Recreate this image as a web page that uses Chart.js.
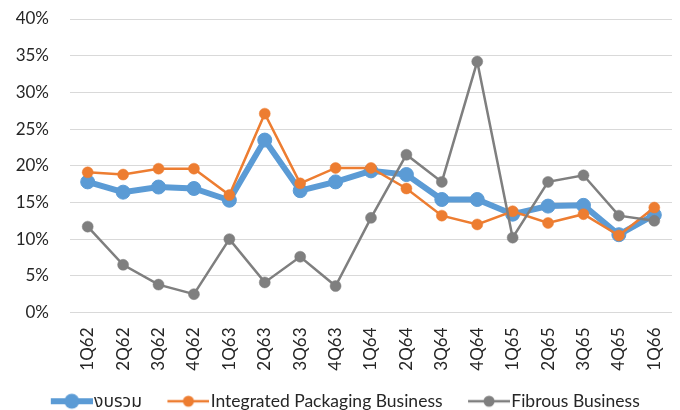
<!DOCTYPE html>
<html>
<head>
<meta charset="utf-8">
<script src="https://cdn.jsdelivr.net/npm/chart.js@4"></script>
<style>
  html, body { margin: 0; padding: 0; background: #ffffff; }
  #wrap { width: 680px; height: 410px; position: relative; }
</style>
</head>
<body>
<div id="wrap"><canvas id="chart"></canvas></div>
<script>
// Quarterly margin by business segment (%)
const quarters = ['1Q62','2Q62','3Q62','4Q62','1Q63','2Q63','3Q63','4Q63','1Q64','2Q64','3Q64','4Q64','1Q65','2Q65','3Q65','4Q65','1Q66'];
const consolidated = [17.8, 16.4, 17.1, 16.9, 15.3, 23.5, 16.6, 17.8, 19.3, 18.8, 15.4, 15.4, 13.4, 14.5, 14.6, 10.6, 13.3];
const packaging    = [19.1, 18.8, 19.6, 19.6, 16.0, 27.1, 17.6, 19.7, 19.7, 16.9, 13.2, 12.0, 13.8, 12.2, 13.4, 10.5, 14.3];
const fibrous      = [11.7, 6.5, 3.8, 2.5, 10.0, 4.1, 7.6, 3.6, 12.9, 21.5, 17.8, 34.2, 10.2, 17.8, 18.7, 13.2, 12.5];
const yTicks = [0, 5, 10, 15, 20, 25, 30, 35, 40];

const seriesNames = ['งบรวม', 'Integrated Packaging Business', 'Fibrous Business'];
const colors = ['#5B9BD5', '#ED7D31', '#7F7F7F'];

const FONT = 'Lato, "Noto Sans", "Noto Sans Thai", "DejaVu Sans", sans-serif';
const LEGEND_FS = 17.5;
const BOX_W = 50;      // legend box width reserved before the text
const SW_LEN = 42;     // swatch line length
const SW_GAP = 1.5;    // gap between swatch and text

// Legend swatch: a short line with a marker in the middle, positioned so it
// ends just before the label text (the image is centred on the legend box).
function swatch(color, lineW, r) {
  const lineEnd = BOX_W + LEGEND_FS / 2 - SW_GAP;       // relative to item x
  const imgW = 2 * (lineEnd - BOX_W / 2);
  const c = document.createElement('canvas');
  c.width = Math.round(imgW); c.height = 18;
  const g = c.getContext('2d');
  const x1 = c.width, x0 = x1 - SW_LEN;
  g.strokeStyle = color; g.lineWidth = lineW; g.lineCap = 'butt';
  g.beginPath(); g.moveTo(x0, 9); g.lineTo(x1, 9); g.stroke();
  g.fillStyle = color;
  g.beginPath(); g.arc((x0 + x1) / 2, 9, r, 0, Math.PI * 2); g.fill();
  return c;
}
const swatches = [swatch(colors[0], 6, 7.5), swatch(colors[1], 2.5, 5.5), swatch(colors[2], 2.5, 5.5)];

Chart.defaults.font.family = FONT;
Chart.defaults.color = '#262626';

new Chart(document.getElementById('chart'), {
  type: 'line',
  data: {
    labels: quarters,
    datasets: [
      { label: seriesNames[0], data: consolidated, borderColor: colors[0], backgroundColor: colors[0],
        borderWidth: 6, pointRadius: 7, pointBorderWidth: 1, pointBackgroundColor: colors[0], order: 3 },
      { label: seriesNames[1], data: packaging, borderColor: colors[1], backgroundColor: colors[1],
        borderWidth: 2.5, pointRadius: 5.5, pointBorderWidth: 0.5, pointBackgroundColor: colors[1], order: 2 },
      { label: seriesNames[2], data: fibrous, borderColor: colors[2], backgroundColor: colors[2],
        borderWidth: 2.5, pointRadius: 5.5, pointBorderWidth: 0.5, pointBackgroundColor: colors[2], order: 1 }
    ]
  },
  options: {
    responsive: true,
    maintainAspectRatio: false,
    animation: false,
    layout: { padding: { left: 0, right: 5, top: 19, bottom: -10 } },
    plugins: {
      tooltip: { enabled: false },
      legend: {
        position: 'bottom',
        labels: {
          usePointStyle: true,
          pointStyleWidth: BOX_W,
          padding: 10,
          font: { size: LEGEND_FS },
          color: '#262626',
          sort: (a, b) => a.datasetIndex - b.datasetIndex,
          generateLabels: (chart) => {
            const items = Chart.defaults.plugins.legend.labels.generateLabels(chart);
            items.forEach(it => { it.pointStyle = swatches[it.datasetIndex]; });
            return items;
          }
        }
      }
    },
    scales: {
      x: {
        offset: true,
        afterFit: (s) => { s.height = 70; s.paddingLeft = 0; s.paddingRight = 0; },
        grid: { display: false, drawTicks: false },
        border: { display: false },
        ticks: { minRotation: 90, maxRotation: 90, padding: 15, font: { size: 17 }, color: '#262626', autoSkip: false }
      },
      y: {
        min: 0, max: 40,
        afterFit: (s) => { s.width = 70; s.paddingTop = 0; s.paddingBottom = 0; },
        afterBuildTicks: (s) => { s.ticks = yTicks.map(v => ({ value: v })); },
        grid: { color: '#D9D9D9', lineWidth: 1, drawTicks: false },
        border: { display: false },
        ticks: { padding: 21, font: { size: 17 }, color: '#262626', callback: (v) => v + '%' }
      }
    }
  }
});
</script>
</body>
</html>
